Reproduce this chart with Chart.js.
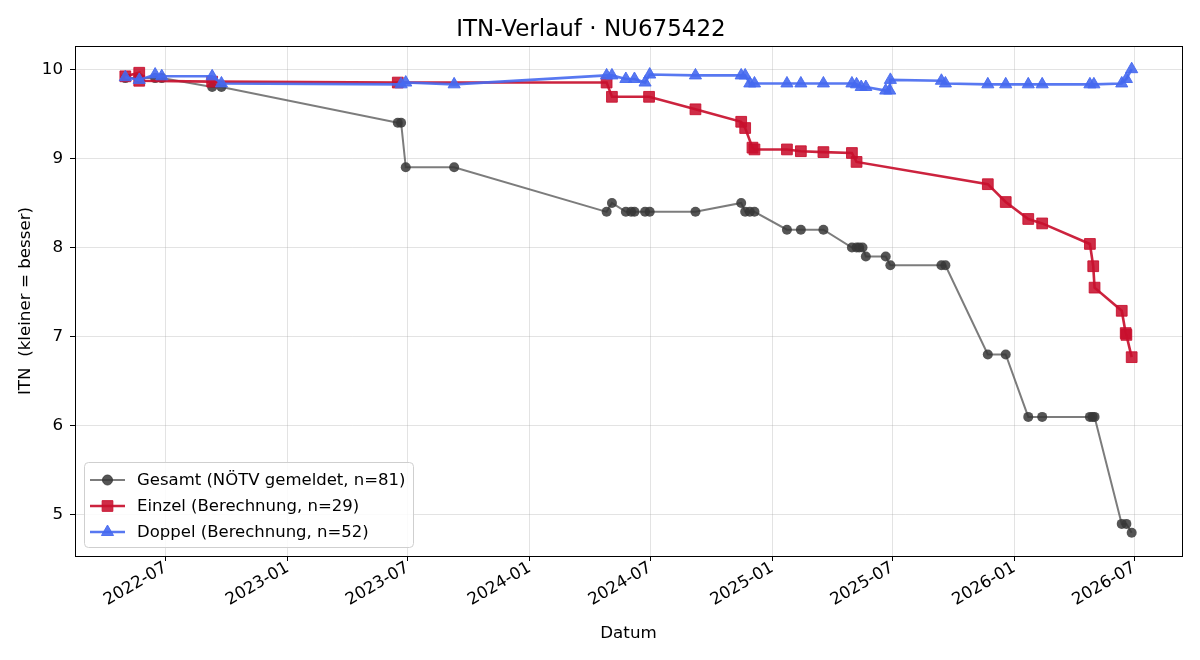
<!DOCTYPE html>
<html><head><meta charset="utf-8">
<script src="https://cdn.jsdelivr.net/npm/chart.js@4.4.1/dist/chart.umd.min.js"></script>
<style>html,body{margin:0;padding:0;background:#fff;}#wrap{width:1200px;height:660px;}</style>
</head><body><div id="wrap"><canvas id="c" width="1200" height="660"></canvas></div>
<script>
const chartTitle = 'ITN-Verlauf · NU675422';
const xAxisLabel = 'Datum';
const yAxisLabel = 'ITN  (kleiner = besser)';
const yTickValues = [5, 6, 7, 8, 9, 10];
const xTickLabels = ['2022-07','2023-01','2023-07','2024-01','2024-07','2025-01','2025-07','2026-01','2026-07'];

const gesamtLabel = 'Gesamt (NÖTV gemeldet, n=81)';
const gesamtDates = ['2022-05-01','2022-05-22','2022-06-15','2022-06-25','2022-09-09','2022-09-23',
  '2023-06-16','2023-06-21','2023-06-28','2023-09-09',
  '2024-04-26','2024-05-04','2024-05-25','2024-06-02','2024-06-07','2024-06-23','2024-06-30',
  '2024-09-07','2024-11-15','2024-11-21','2024-11-28','2024-12-05',
  '2025-01-23','2025-02-13','2025-03-19','2025-05-01','2025-05-08','2025-05-12','2025-05-17','2025-05-22',
  '2025-06-21','2025-06-28','2025-09-13','2025-09-19','2025-11-22','2025-12-19',
  '2026-01-22','2026-02-12','2026-04-25','2026-04-29','2026-05-02','2026-06-12','2026-06-19','2026-06-27'];
const gesamtValues = [9.9,9.9,9.9,9.9,9.8,9.8,
  9.4,9.4,8.9,8.9,
  8.4,8.5,8.4,8.4,8.4,8.4,8.4,
  8.4,8.5,8.4,8.4,8.4,
  8.2,8.2,8.2,8.0,8.0,8.0,8.0,7.9,
  7.9,7.8,7.8,7.8,6.8,6.8,
  6.1,6.1,6.1,6.1,6.1,4.9,4.9,4.8];

const einzelLabel = 'Einzel (Berechnung, n=29)';
const einzelDates = ['2022-05-01','2022-05-22','2022-05-22','2022-09-09','2023-06-16',
  '2024-04-26','2024-05-04','2024-06-29','2024-09-07','2024-11-15','2024-11-21','2024-12-02','2024-12-05',
  '2025-01-23','2025-02-13','2025-03-19','2025-05-01','2025-05-08','2025-11-22','2025-12-19',
  '2026-01-22','2026-02-12','2026-04-25','2026-04-30','2026-05-02','2026-06-12','2026-06-18','2026-06-19','2026-06-27'];
const einzelValues = [9.92,9.96,9.87,9.86,9.85,
  9.85,9.69,9.69,9.55,9.41,9.34,9.12,9.10,
  9.10,9.08,9.07,9.06,8.96,8.71,8.51,
  8.32,8.27,8.04,7.79,7.55,7.29,7.04,7.02,6.77];

const doppelLabel = 'Doppel (Berechnung, n=52)';
const doppelDates = ['2022-05-01','2022-05-22','2022-06-15','2022-06-25','2022-09-09','2022-09-23',
  '2023-06-21','2023-06-28','2023-09-09',
  '2024-04-26','2024-05-04','2024-05-25','2024-06-07','2024-06-23','2024-06-30',
  '2024-09-07','2024-11-15','2024-11-21','2024-11-28','2024-12-05',
  '2025-01-23','2025-02-13','2025-03-19','2025-05-01','2025-05-08','2025-05-15','2025-05-22',
  '2025-06-21','2025-06-27','2025-06-28','2025-09-13','2025-09-19','2025-11-22','2025-12-19',
  '2026-01-22','2026-02-12','2026-04-25','2026-05-01','2026-06-12','2026-06-19','2026-06-27'];
const doppelValues = [9.91,9.88,9.94,9.92,9.92,9.84,
  9.83,9.85,9.83,
  9.93,9.93,9.89,9.89,9.85,9.94,
  9.93,9.93,9.93,9.84,9.84,
  9.84,9.84,9.84,9.84,9.83,9.80,9.80,
  9.76,9.76,9.88,9.87,9.84,9.83,9.83,
  9.83,9.83,9.83,9.83,9.84,9.89,10.0];

const FONT = "'DejaVu Sans', sans-serif";
function dayOf(s) {
  const p = s.split('-').map(Number);
  return Date.UTC(p[0], p[1] - 1, p[2] || 1) / 864e5;
}
function pts(dates, vals) { return dates.map((d, i) => ({ x: dayOf(d), y: vals[i] })); }
function fmtDay(v) {
  const d = new Date(v * 864e5);
  return d.getUTCFullYear() + '-' + String(d.getUTCMonth() + 1).padStart(2, '0');
}
const xTickDays = xTickLabels.map(dayOf);
const allX = [].concat(gesamtDates, einzelDates, doppelDates).map(dayOf);
const allY = [].concat(gesamtValues, einzelValues, doppelValues);
const xMinD = Math.min(...allX), xMaxD = Math.max(...allX);
const yMinD = Math.min(...allY), yMaxD = Math.max(...allY);
const xPad = (xMaxD - xMinD) * 0.05, yPad = (yMaxD - yMinD) * 0.05;

const frameLegend = {
  id: 'frameLegend',
  afterDraw(chart) {
    const ctx = chart.ctx, a = chart.chartArea;
    ctx.save();
    ctx.strokeStyle = '#000'; ctx.lineWidth = 1;
    ctx.strokeRect(Math.round(a.left) + 0.5, Math.round(a.top) + 0.5, Math.round(a.right - a.left), Math.round(a.bottom - a.top));
    const bx = a.left + 9, bw = 329, bh = 85, by = a.bottom - 9 - bh;
    ctx.beginPath();
    ctx.roundRect(bx + 0.5, by + 0.5, bw, bh, 4);
    ctx.fillStyle = 'rgba(255,255,255,0.85)';
    ctx.fill();
    ctx.strokeStyle = '#cfcfcf';
    ctx.stroke();
    chart.data.datasets.forEach((ds, i) => {
      const yy = by + 18 + i * 26;
      ctx.beginPath();
      ctx.strokeStyle = ds.borderColor; ctx.lineWidth = ds.borderWidth;
      ctx.moveTo(bx + 6, yy); ctx.lineTo(bx + 41, yy); ctx.stroke();
      ctx.fillStyle = ds.pointBackgroundColor; ctx.strokeStyle = ds.pointBorderColor;
      ctx.lineWidth = 1;
      Chart.helpers.drawPoint(ctx, { pointStyle: ds.pointStyle, radius: ds.pointRadius, rotation: 0, borderWidth: 1 }, bx + 23.5, yy);
      ctx.fillStyle = '#000';
      ctx.font = '16.5px ' + FONT;
      ctx.textBaseline = 'middle'; ctx.textAlign = 'left';
      ctx.fillText(ds.label, bx + 53, yy + 1);
    });
    ctx.restore();
  }
};

new Chart(document.getElementById('c'), {
  type: 'line',
  data: {
    datasets: [
      { label: gesamtLabel, data: pts(gesamtDates, gesamtValues), order: 3,
        borderColor: 'rgba(80,80,80,0.75)', borderWidth: 2,
        pointStyle: 'circle', pointRadius: 5, pointBackgroundColor: 'rgba(55,55,55,0.85)', pointBorderColor: 'rgba(55,55,55,0.85)', pointBorderWidth: 0 },
      { label: einzelLabel, data: pts(einzelDates, einzelValues), order: 2,
        borderColor: 'rgba(200,16,46,0.92)', borderWidth: 2.6,
        pointStyle: 'rect', pointRadius: 7.6, pointBackgroundColor: 'rgba(200,16,46,0.88)', pointBorderColor: 'rgba(200,16,46,0.88)', pointBorderWidth: 1 },
      { label: doppelLabel, data: pts(doppelDates, doppelValues), order: 1,
        borderColor: 'rgba(70,105,240,0.9)', borderWidth: 2.6,
        pointStyle: 'triangle', pointRadius: 7, pointBackgroundColor: 'rgba(70,105,240,0.9)', pointBorderColor: 'rgba(70,105,240,0.9)', pointBorderWidth: 1 }
    ]
  },
  options: {
    responsive: false, animation: false,
    layout: { padding: { left: 0, right: 18, top: 0, bottom: 0 } },
    elements: { line: { tension: 0 } },
    plugins: {
      legend: { display: false }, tooltip: { enabled: false },
      title: { display: true, text: chartTitle, color: '#000', font: { family: FONT, size: 23, weight: 'normal' }, padding: { top: 16, bottom: 2.4 } }
    },
    scales: {
      x: {
        type: 'linear', min: xMinD - xPad, max: xMaxD + xPad,
        afterBuildTicks: s => { s.ticks = xTickDays.map(v => ({ value: v })); },
        afterFit: s => { s.height = 104; },
        ticks: { autoSkip: false, maxRotation: 30, minRotation: 30, padding: -3, color: '#000',
          font: { family: FONT, size: 16.7 }, callback: v => fmtDay(v) },
        grid: { color: 'rgba(176,176,176,0.35)', tickColor: '#000', tickLength: 5, lineWidth: 1 },
        border: { display: true, color: '#000' },
        title: { display: true, text: xAxisLabel, color: '#000', font: { family: FONT, size: 16.7 }, padding: { top: 0, bottom: 16 } }
      },
      y: {
        type: 'linear', min: yMinD - yPad, max: yMaxD + yPad,
        afterBuildTicks: s => { s.ticks = yTickValues.map(v => ({ value: v })); },
        afterFit: s => { s.width = 75; },
        ticks: { padding: 7, color: '#000', font: { family: FONT, size: 16.7 }, callback: v => String(v) },
        grid: { color: 'rgba(176,176,176,0.35)', tickColor: '#000', tickLength: 5, lineWidth: 1 },
        border: { display: true, color: '#000' },
        title: { display: true, text: yAxisLabel, color: '#000', font: { family: FONT, size: 16.7 }, padding: { top: 16, bottom: 0 } }
      }
    }
  },
  plugins: [frameLegend]
});
</script></body></html>
